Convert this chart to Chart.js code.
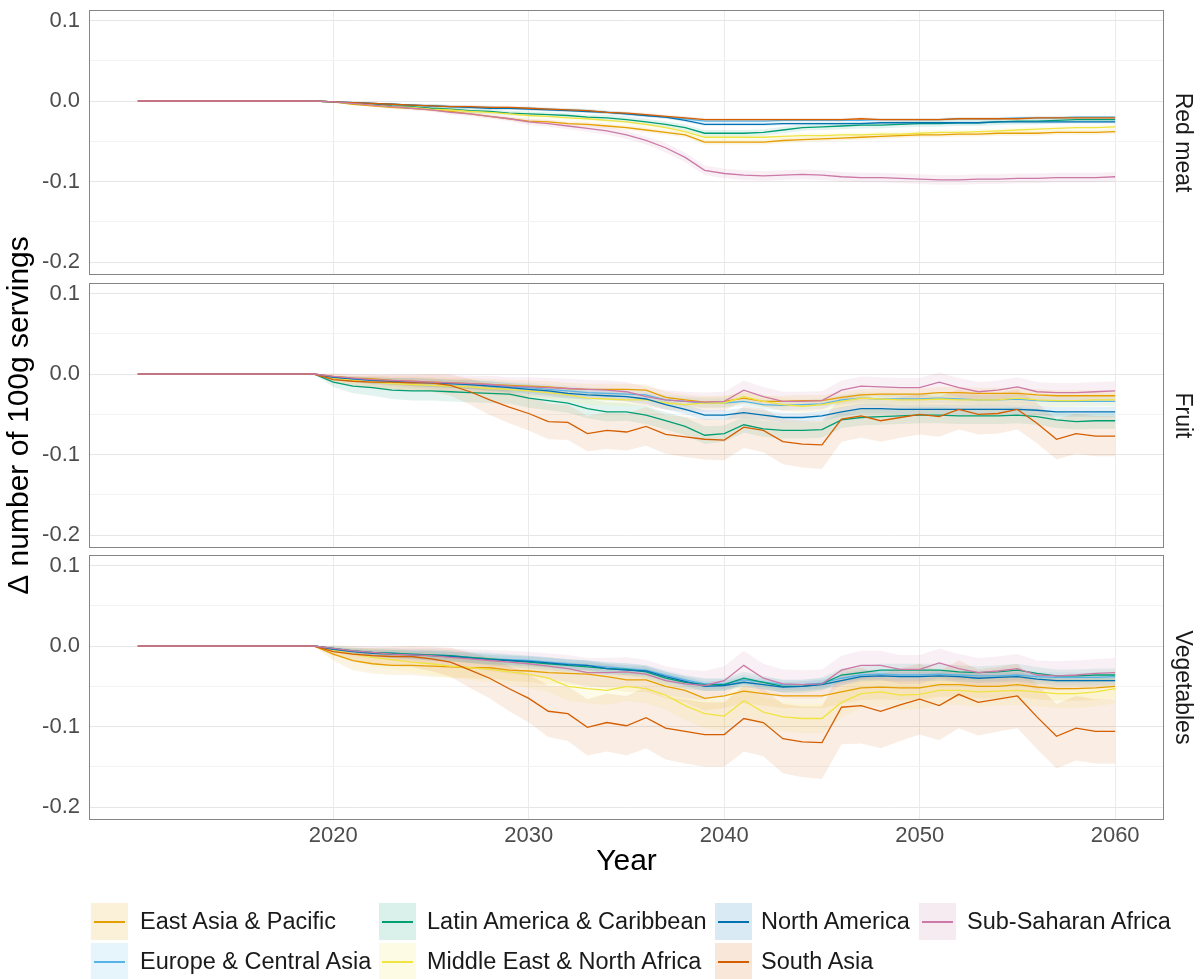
<!DOCTYPE html>
<html>
<head>
<meta charset="utf-8">
<script src="https://cdn.jsdelivr.net/npm/chart.js@4.4.1/dist/chart.umd.min.js"></script>
<style>
  html, body { margin: 0; padding: 0; background: #ffffff; }
  #figure { position: relative; width: 1201px; height: 979px; overflow: hidden; background: #ffffff;
            font-family: "Liberation Sans", Arial, sans-serif; }
  #figure canvas { position: absolute; left: 0; top: 0; }
  .key { position: absolute; width: 37px; height: 37px; }
  .key span { position: absolute; left: 3px; right: 3px; top: 18px; height: 1.5px; }
  .keytext { position: absolute; font-size: 23.5px; color: #1a1a1a; line-height: 37px; white-space: nowrap; }
</style>
</head>
<body>
<div id="figure">
  <canvas id="panel0" width="1201" height="979"></canvas>
  <canvas id="panel1" width="1201" height="979"></canvas>
  <canvas id="panel2" width="1201" height="979"></canvas>
</div>
<script>
// ---- categories ----
const years = [2010,2011,2012,2013,2014,2015,2016,2017,2018,2019,
               2020,2021,2022,2023,2024,2025,2026,2027,2028,2029,
               2030,2031,2032,2033,2034,2035,2036,2037,2038,2039,
               2040,2041,2042,2043,2044,2045,2046,2047,2048,2049,
               2050,2051,2052,2053,2054,2055,2056,2057,2058,2059,2060];
const regions = ['East Asia & Pacific', 'Europe & Central Asia', 'Latin America & Caribbean',
                 'Middle East & North Africa', 'North America', 'South Asia', 'Sub-Saharan Africa'];
const regionColors = ['#E69F00', '#56B4E9', '#009E73', '#F0E442', '#0072B2', '#D55E00', '#CC79A7'];
const foodGroups = ['Red meat', 'Fruit', 'Vegetables'];

// ---- tick labels ----
const xTicks = [2020, 2030, 2040, 2050, 2060];
const yTicks = [-0.2, -0.15, -0.1, -0.05, 0, 0.05, 0.1];
const yTickLabels = ['-0.2', '', '-0.1', '', '0.0', '', '0.1'];

// ---- Red meat: change in servings (2010-2060) ----
const meatEAP = [0,0,0,0,0,0,0,0,0,0, -0.001,-0.004,-0.006,-0.008,-0.009,-0.011,-0.013,-0.016,-0.019,-0.022, -0.025,-0.026,-0.028,-0.029,-0.031,-0.033,-0.036,-0.039,-0.042,-0.051, -0.051,-0.051,-0.051,-0.049,-0.048,-0.047,-0.046,-0.045,-0.044,-0.043, -0.042,-0.042,-0.041,-0.041,-0.040,-0.040,-0.040,-0.039,-0.039,-0.039, -0.038];
const meatECA = [0,0,0,0,0,0,0,0,0,0, -0.001,-0.002,-0.003,-0.004,-0.005,-0.006,-0.007,-0.008,-0.008,-0.009, -0.009,-0.010,-0.011,-0.012,-0.014,-0.016,-0.018,-0.020,-0.022,-0.025, -0.025,-0.025,-0.025,-0.024,-0.024,-0.024,-0.024,-0.024,-0.023,-0.023, -0.023,-0.023,-0.022,-0.022,-0.022,-0.021,-0.021,-0.021,-0.020,-0.020, -0.020];
const meatLAC = [0,0,0,0,0,0,0,0,0,0, -0.001,-0.003,-0.004,-0.006,-0.007,-0.009,-0.010,-0.012,-0.013,-0.015, -0.016,-0.017,-0.018,-0.020,-0.021,-0.023,-0.026,-0.029,-0.033,-0.040, -0.040,-0.040,-0.039,-0.036,-0.033,-0.032,-0.031,-0.030,-0.030,-0.029, -0.028,-0.028,-0.027,-0.027,-0.026,-0.025,-0.025,-0.024,-0.023,-0.023, -0.023];
const meatMENA = [0,0,0,0,0,0,0,0,0,0, -0.001,-0.003,-0.005,-0.007,-0.008,-0.010,-0.011,-0.013,-0.014,-0.016, -0.018,-0.019,-0.021,-0.022,-0.024,-0.026,-0.029,-0.033,-0.038,-0.045, -0.045,-0.045,-0.045,-0.044,-0.043,-0.043,-0.042,-0.042,-0.041,-0.041, -0.040,-0.039,-0.039,-0.038,-0.037,-0.036,-0.035,-0.034,-0.033,-0.033, -0.032];
const meatNA = [0,0,0,0,0,0,0,0,0,0, -0.001,-0.002,-0.003,-0.004,-0.005,-0.006,-0.007,-0.008,-0.009,-0.009, -0.010,-0.011,-0.012,-0.013,-0.014,-0.016,-0.018,-0.020,-0.024,-0.029, -0.029,-0.029,-0.029,-0.028,-0.028,-0.028,-0.028,-0.028,-0.027,-0.027, -0.027,-0.027,-0.027,-0.027,-0.026,-0.026,-0.026,-0.026,-0.026,-0.026, -0.026];
const meatSA = [0,0,0,0,0,0,0,0,0,0, -0.001,-0.002,-0.003,-0.004,-0.005,-0.006,-0.007,-0.007,-0.008,-0.008, -0.009,-0.010,-0.011,-0.012,-0.014,-0.015,-0.017,-0.019,-0.021,-0.023, -0.023,-0.023,-0.023,-0.023,-0.023,-0.023,-0.023,-0.022,-0.023,-0.023, -0.023,-0.023,-0.022,-0.022,-0.022,-0.022,-0.021,-0.021,-0.021,-0.021, -0.021];
const meatSSA = [0,0,0,0,0,0,0,0,0,0, -0.001,-0.003,-0.005,-0.007,-0.009,-0.011,-0.014,-0.016,-0.019,-0.022, -0.026,-0.028,-0.031,-0.034,-0.037,-0.042,-0.049,-0.058,-0.070,-0.086, -0.090,-0.092,-0.093,-0.092,-0.091,-0.092,-0.094,-0.095,-0.095,-0.096, -0.097,-0.098,-0.098,-0.097,-0.097,-0.096,-0.096,-0.095,-0.095,-0.095, -0.094];

// Red meat: half-width of the uncertainty band
const meatEAPband = [0,0,0,0,0,0,0,0,0,0, 0.001,0.001,0.001,0.002,0.002,0.002,0.002,0.002,0.002,0.002, 0.003,0.003,0.003,0.003,0.003,0.003,0.003,0.003,0.003,0.003, 0.003,0.003,0.003,0.003,0.003,0.003,0.003,0.003,0.003,0.003, 0.003,0.003,0.003,0.003,0.003,0.003,0.003,0.003,0.003,0.003, 0.003];
const meatECAband = [0,0,0,0,0,0,0,0,0,0, 0.001,0.001,0.001,0.001,0.002,0.002,0.002,0.002,0.002,0.002, 0.002,0.002,0.002,0.002,0.002,0.002,0.002,0.002,0.002,0.002, 0.002,0.002,0.002,0.002,0.002,0.002,0.002,0.002,0.002,0.002, 0.002,0.002,0.002,0.002,0.002,0.002,0.002,0.002,0.002,0.002, 0.002];
const meatLACband = [0,0,0,0,0,0,0,0,0,0, 0.001,0.001,0.002,0.002,0.002,0.002,0.002,0.003,0.003,0.003, 0.003,0.003,0.003,0.003,0.004,0.004,0.004,0.004,0.004,0.004, 0.004,0.004,0.004,0.004,0.004,0.004,0.004,0.004,0.004,0.004, 0.004,0.004,0.004,0.004,0.004,0.004,0.004,0.004,0.004,0.004, 0.004];
const meatMENAband = [0,0,0,0,0,0,0,0,0,0, 0.001,0.001,0.001,0.002,0.002,0.002,0.002,0.002,0.002,0.002, 0.003,0.003,0.003,0.003,0.003,0.003,0.003,0.003,0.003,0.003, 0.003,0.003,0.003,0.003,0.003,0.003,0.003,0.003,0.003,0.003, 0.003,0.003,0.003,0.003,0.003,0.003,0.003,0.003,0.003,0.003, 0.003];
const meatNAband = [0,0,0,0,0,0,0,0,0,0, 0.001,0.001,0.001,0.001,0.001,0.002,0.002,0.002,0.002,0.002, 0.002,0.002,0.002,0.002,0.002,0.002,0.002,0.002,0.002,0.002, 0.002,0.002,0.002,0.002,0.002,0.002,0.002,0.002,0.002,0.002, 0.002,0.002,0.002,0.002,0.002,0.002,0.002,0.002,0.002,0.002, 0.002];
const meatSAband = [0,0,0,0,0,0,0,0,0,0, 0.001,0.001,0.001,0.001,0.001,0.002,0.002,0.002,0.002,0.002, 0.002,0.002,0.002,0.002,0.002,0.002,0.002,0.002,0.002,0.002, 0.002,0.002,0.002,0.002,0.002,0.002,0.002,0.002,0.002,0.002, 0.002,0.002,0.002,0.002,0.002,0.002,0.002,0.002,0.002,0.002, 0.002];
const meatSSAband = [0,0,0,0,0,0,0,0,0,0, 0.001,0.001,0.002,0.002,0.002,0.002,0.003,0.003,0.003,0.003, 0.004,0.004,0.004,0.004,0.005,0.005,0.005,0.006,0.006,0.006, 0.006,0.006,0.006,0.006,0.006,0.006,0.006,0.006,0.006,0.006, 0.006,0.006,0.006,0.006,0.006,0.006,0.006,0.006,0.006,0.006, 0.006];

// ---- Fruit ----
const fruitEAP = [0,0,0,0,0,0,0,0,0,0, -0.003,-0.005,-0.006,-0.008,-0.009,-0.010,-0.011,-0.012,-0.013,-0.014, -0.015,-0.016,-0.018,-0.019,-0.019,-0.019,-0.020,-0.029,-0.032,-0.035, -0.034,-0.030,-0.034,-0.034,-0.033,-0.033,-0.029,-0.026,-0.025,-0.025, -0.025,-0.023,-0.023,-0.024,-0.024,-0.024,-0.026,-0.027,-0.027,-0.027, -0.027];
const fruitECA = [0,0,0,0,0,0,0,0,0,0, -0.004,-0.006,-0.008,-0.009,-0.010,-0.011,-0.012,-0.013,-0.014,-0.016, -0.017,-0.019,-0.021,-0.023,-0.024,-0.025,-0.026,-0.032,-0.034,-0.036, -0.036,-0.034,-0.038,-0.039,-0.038,-0.037,-0.032,-0.030,-0.031,-0.031, -0.031,-0.030,-0.031,-0.032,-0.032,-0.031,-0.033,-0.034,-0.034,-0.034, -0.034];
const fruitLAC = [0,0,0,0,0,0,0,0,0,0, -0.010,-0.015,-0.017,-0.020,-0.021,-0.021,-0.022,-0.023,-0.024,-0.025, -0.030,-0.033,-0.036,-0.043,-0.047,-0.047,-0.051,-0.058,-0.065,-0.076, -0.074,-0.063,-0.068,-0.070,-0.070,-0.069,-0.057,-0.054,-0.053,-0.052, -0.051,-0.051,-0.052,-0.052,-0.052,-0.051,-0.053,-0.057,-0.059,-0.058, -0.058];
const fruitMENA = [0,0,0,0,0,0,0,0,0,0, -0.005,-0.008,-0.010,-0.012,-0.013,-0.014,-0.015,-0.016,-0.018,-0.019, -0.021,-0.023,-0.026,-0.030,-0.031,-0.032,-0.032,-0.036,-0.038,-0.036, -0.036,-0.028,-0.034,-0.038,-0.040,-0.038,-0.034,-0.030,-0.031,-0.032, -0.032,-0.031,-0.032,-0.032,-0.032,-0.030,-0.032,-0.033,-0.033,-0.032, -0.032];
const fruitNA = [0,0,0,0,0,0,0,0,0,0, -0.004,-0.006,-0.008,-0.009,-0.010,-0.011,-0.012,-0.013,-0.015,-0.017, -0.019,-0.021,-0.024,-0.026,-0.027,-0.028,-0.031,-0.038,-0.044,-0.051, -0.051,-0.048,-0.051,-0.054,-0.054,-0.052,-0.047,-0.043,-0.043,-0.044, -0.044,-0.044,-0.044,-0.044,-0.044,-0.044,-0.045,-0.047,-0.047,-0.047, -0.047];
const fruitSA = [0,0,0,0,0,0,0,0,0,0, -0.007,-0.009,-0.010,-0.010,-0.011,-0.011,-0.014,-0.022,-0.032,-0.041, -0.049,-0.059,-0.060,-0.074,-0.070,-0.072,-0.065,-0.075,-0.078,-0.081, -0.082,-0.066,-0.070,-0.084,-0.087,-0.088,-0.056,-0.052,-0.058,-0.054, -0.050,-0.053,-0.044,-0.050,-0.049,-0.044,-0.061,-0.081,-0.074,-0.077, -0.077];
const fruitSSA = [0,0,0,0,0,0,0,0,0,0, -0.003,-0.005,-0.007,-0.008,-0.009,-0.010,-0.011,-0.012,-0.013,-0.015, -0.016,-0.017,-0.018,-0.019,-0.020,-0.022,-0.028,-0.032,-0.034,-0.035, -0.034,-0.020,-0.028,-0.034,-0.034,-0.033,-0.020,-0.015,-0.016,-0.017, -0.017,-0.010,-0.017,-0.022,-0.020,-0.016,-0.022,-0.023,-0.023,-0.022, -0.021];

const fruitEAPband = [0,0,0,0,0,0,0,0,0,0, 0.003,0.004,0.005,0.005,0.006,0.006,0.006,0.007,0.007,0.007, 0.007,0.007,0.007,0.007,0.007,0.007,0.007,0.007,0.007,0.007, 0.007,0.007,0.007,0.007,0.007,0.007,0.007,0.007,0.007,0.007, 0.007,0.007,0.007,0.007,0.007,0.007,0.007,0.007,0.007,0.007, 0.007];
const fruitECAband = [0,0,0,0,0,0,0,0,0,0, 0.002,0.003,0.004,0.004,0.005,0.005,0.005,0.005,0.006,0.006, 0.006,0.006,0.006,0.006,0.006,0.006,0.006,0.006,0.006,0.006, 0.006,0.006,0.006,0.006,0.006,0.006,0.006,0.006,0.006,0.006, 0.006,0.006,0.006,0.006,0.006,0.006,0.006,0.006,0.006,0.006, 0.006];
const fruitLACband = [0,0,0,0,0,0,0,0,0,0, 0.006,0.009,0.010,0.011,0.012,0.012,0.012,0.012,0.012,0.012, 0.012,0.012,0.012,0.012,0.012,0.011,0.011,0.011,0.011,0.011, 0.010,0.010,0.010,0.010,0.010,0.010,0.010,0.010,0.010,0.010, 0.010,0.010,0.010,0.010,0.010,0.010,0.010,0.010,0.010,0.010, 0.010];
const fruitMENAband = [0,0,0,0,0,0,0,0,0,0, 0.004,0.005,0.006,0.007,0.007,0.008,0.008,0.008,0.008,0.008, 0.008,0.008,0.008,0.008,0.008,0.008,0.008,0.008,0.008,0.008, 0.008,0.008,0.008,0.008,0.008,0.008,0.008,0.008,0.008,0.008, 0.008,0.008,0.008,0.008,0.008,0.008,0.008,0.008,0.008,0.008, 0.008];
const fruitNAband = [0,0,0,0,0,0,0,0,0,0, 0.002,0.003,0.004,0.004,0.005,0.005,0.005,0.006,0.006,0.006, 0.006,0.006,0.006,0.006,0.006,0.006,0.006,0.006,0.006,0.006, 0.006,0.006,0.006,0.006,0.006,0.006,0.006,0.006,0.006,0.006, 0.006,0.006,0.006,0.006,0.006,0.006,0.006,0.006,0.006,0.006, 0.006];
const fruitSAband = [0,0,0,0,0,0,0,0,0,0, 0.004,0.006,0.008,0.009,0.010,0.011,0.013,0.016,0.019,0.020, 0.021,0.022,0.022,0.022,0.023,0.023,0.024,0.024,0.025,0.025, 0.025,0.026,0.027,0.028,0.029,0.030,0.028,0.027,0.026,0.025, 0.025,0.025,0.025,0.025,0.025,0.025,0.025,0.025,0.025,0.025, 0.025];
const fruitSSAband = [0,0,0,0,0,0,0,0,0,0, 0.004,0.005,0.006,0.007,0.008,0.009,0.010,0.010,0.011,0.011, 0.012,0.012,0.012,0.012,0.012,0.012,0.012,0.012,0.012,0.012, 0.012,0.012,0.012,0.012,0.012,0.012,0.012,0.012,0.012,0.012, 0.012,0.012,0.012,0.012,0.012,0.012,0.012,0.012,0.012,0.012, 0.012];

// ---- Vegetables ----
const vegEAP = [0,0,0,0,0,0,0,0,0,0, -0.010,-0.018,-0.022,-0.024,-0.024,-0.025,-0.026,-0.027,-0.027,-0.030, -0.031,-0.033,-0.034,-0.035,-0.038,-0.042,-0.042,-0.050,-0.055,-0.065, -0.062,-0.056,-0.059,-0.062,-0.062,-0.062,-0.057,-0.052,-0.051,-0.052, -0.052,-0.048,-0.048,-0.050,-0.050,-0.048,-0.051,-0.053,-0.053,-0.052, -0.050];
const vegECA = [0,0,0,0,0,0,0,0,0,0, -0.003,-0.006,-0.008,-0.009,-0.010,-0.011,-0.012,-0.014,-0.016,-0.017, -0.018,-0.020,-0.022,-0.024,-0.026,-0.028,-0.030,-0.036,-0.042,-0.047, -0.047,-0.042,-0.045,-0.048,-0.048,-0.046,-0.040,-0.036,-0.035,-0.036, -0.036,-0.035,-0.036,-0.037,-0.037,-0.036,-0.038,-0.039,-0.039,-0.039, -0.038];
const vegLAC = [0,0,0,0,0,0,0,0,0,0, -0.003,-0.006,-0.008,-0.009,-0.010,-0.011,-0.012,-0.014,-0.016,-0.018, -0.020,-0.022,-0.024,-0.026,-0.028,-0.029,-0.032,-0.040,-0.045,-0.048, -0.048,-0.040,-0.045,-0.050,-0.050,-0.047,-0.036,-0.033,-0.030,-0.030, -0.030,-0.030,-0.032,-0.033,-0.032,-0.030,-0.034,-0.037,-0.037,-0.036, -0.036];
const vegMENA = [0,0,0,0,0,0,0,0,0,0, -0.005,-0.010,-0.014,-0.017,-0.020,-0.022,-0.025,-0.027,-0.029,-0.032, -0.035,-0.040,-0.050,-0.053,-0.055,-0.050,-0.053,-0.061,-0.074,-0.084, -0.087,-0.068,-0.082,-0.088,-0.090,-0.090,-0.070,-0.059,-0.057,-0.061, -0.060,-0.055,-0.055,-0.057,-0.056,-0.055,-0.057,-0.059,-0.059,-0.057, -0.053];
const vegNA = [0,0,0,0,0,0,0,0,0,0, -0.004,-0.007,-0.009,-0.010,-0.011,-0.012,-0.013,-0.015,-0.017,-0.018, -0.019,-0.021,-0.023,-0.024,-0.028,-0.030,-0.031,-0.038,-0.044,-0.050, -0.049,-0.045,-0.048,-0.051,-0.050,-0.048,-0.043,-0.038,-0.037,-0.038, -0.038,-0.037,-0.038,-0.040,-0.039,-0.038,-0.041,-0.043,-0.043,-0.043, -0.043];
const vegSA = [0,0,0,0,0,0,0,0,0,0, -0.007,-0.010,-0.012,-0.013,-0.013,-0.016,-0.020,-0.030,-0.040,-0.053, -0.065,-0.081,-0.084,-0.101,-0.095,-0.099,-0.089,-0.102,-0.106,-0.110, -0.110,-0.090,-0.095,-0.115,-0.119,-0.120,-0.076,-0.074,-0.081,-0.073, -0.066,-0.074,-0.060,-0.070,-0.066,-0.062,-0.088,-0.112,-0.102,-0.106, -0.106];
const vegSSA = [0,0,0,0,0,0,0,0,0,0, -0.003,-0.006,-0.008,-0.010,-0.011,-0.012,-0.014,-0.016,-0.018,-0.020, -0.022,-0.025,-0.028,-0.033,-0.033,-0.032,-0.035,-0.043,-0.047,-0.049, -0.043,-0.024,-0.040,-0.047,-0.048,-0.047,-0.030,-0.024,-0.024,-0.029, -0.029,-0.021,-0.028,-0.033,-0.031,-0.028,-0.036,-0.037,-0.036,-0.034, -0.033];

const vegEAPband = [0,0,0,0,0,0,0,0,0,0, 0.008,0.012,0.012,0.012,0.012,0.013,0.013,0.013,0.013,0.013, 0.014,0.014,0.014,0.014,0.015,0.015,0.015,0.015,0.015,0.015, 0.015,0.015,0.015,0.015,0.015,0.015,0.015,0.015,0.015,0.015, 0.015,0.015,0.015,0.015,0.015,0.015,0.015,0.015,0.015,0.015, 0.015];
const vegECAband = [0,0,0,0,0,0,0,0,0,0, 0.002,0.003,0.004,0.004,0.005,0.005,0.005,0.006,0.006,0.006, 0.006,0.006,0.006,0.006,0.006,0.006,0.006,0.006,0.006,0.006, 0.006,0.006,0.006,0.006,0.006,0.006,0.006,0.006,0.006,0.006, 0.006,0.006,0.006,0.006,0.006,0.006,0.006,0.006,0.006,0.006, 0.006];
const vegLACband = [0,0,0,0,0,0,0,0,0,0, 0.003,0.004,0.005,0.006,0.006,0.007,0.007,0.007,0.008,0.008, 0.008,0.008,0.008,0.008,0.008,0.008,0.008,0.008,0.008,0.008, 0.008,0.008,0.008,0.008,0.008,0.008,0.008,0.008,0.008,0.008, 0.008,0.008,0.008,0.008,0.008,0.008,0.008,0.008,0.008,0.008, 0.008];
const vegMENAband = [0,0,0,0,0,0,0,0,0,0, 0.006,0.009,0.011,0.012,0.013,0.014,0.015,0.015,0.016,0.016, 0.017,0.017,0.018,0.018,0.018,0.018,0.018,0.018,0.018,0.018, 0.018,0.018,0.018,0.018,0.018,0.018,0.018,0.018,0.018,0.018, 0.018,0.018,0.018,0.018,0.018,0.018,0.018,0.018,0.018,0.018, 0.018];
const vegNAband = [0,0,0,0,0,0,0,0,0,0, 0.002,0.003,0.004,0.005,0.005,0.006,0.006,0.006,0.006,0.006, 0.006,0.006,0.006,0.006,0.006,0.006,0.006,0.006,0.006,0.006, 0.006,0.006,0.006,0.006,0.006,0.006,0.006,0.006,0.006,0.006, 0.006,0.006,0.006,0.006,0.006,0.006,0.006,0.006,0.006,0.006, 0.006];
const vegSAband = [0,0,0,0,0,0,0,0,0,0, 0.005,0.008,0.010,0.012,0.013,0.015,0.018,0.022,0.025,0.028, 0.030,0.032,0.034,0.035,0.036,0.037,0.038,0.039,0.040,0.040, 0.040,0.041,0.042,0.043,0.044,0.045,0.046,0.047,0.046,0.045, 0.044,0.043,0.042,0.041,0.040,0.040,0.040,0.040,0.040,0.040, 0.040];
const vegSSAband = [0,0,0,0,0,0,0,0,0,0, 0.004,0.006,0.007,0.008,0.009,0.010,0.011,0.012,0.013,0.014, 0.015,0.016,0.017,0.018,0.018,0.018,0.018,0.018,0.018,0.018, 0.018,0.018,0.018,0.018,0.018,0.018,0.018,0.018,0.018,0.018, 0.018,0.018,0.018,0.018,0.018,0.018,0.018,0.018,0.018,0.018, 0.018];

// one row per facet, one entry per region (in the order of `regions`)
const panelSeries = [
  [meatEAP, meatECA, meatLAC, meatMENA, meatNA, meatSA, meatSSA],
  [fruitEAP, fruitECA, fruitLAC, fruitMENA, fruitNA, fruitSA, fruitSSA],
  [vegEAP, vegECA, vegLAC, vegMENA, vegNA, vegSA, vegSSA]
];
const panelBands = [
  [meatEAPband, meatECAband, meatLACband, meatMENAband, meatNAband, meatSAband, meatSSAband],
  [fruitEAPband, fruitECAband, fruitLACband, fruitMENAband, fruitNAband, fruitSAband, fruitSSAband],
  [vegEAPband, vegECAband, vegLACband, vegMENAband, vegNAband, vegSAband, vegSSAband]
];

// ---- layout (pixels) ----
const W = 1201, H = 979;
const PLOT_LEFT = 89, PLOT_RIGHT = 1164;
const panelTop = [10, 283, 555];
const panelBottom = [275, 548, 820];
const X_AXIS_BAND = 60;           // space under the last facet for tick labels + title
const FONT = '"Liberation Sans", Arial, sans-serif';

function rgba(hex, a) {
  const n = parseInt(hex.slice(1), 16);
  return `rgba(${(n >> 16) & 255},${(n >> 8) & 255},${n & 255},${a})`;
}
function points(vals) { return vals.map((v, i) => ({ x: years[i], y: v })); }

function buildDatasets(series, bands) {
  const ds = [];
  // uncertainty ribbons, drawn underneath all lines
  series.forEach((vals, k) => {
    const lower = vals.map((v, i) => v - bands[k][i]);
    const upper = vals.map((v, i) => v + bands[k][i]);
    ds.push({ data: points(lower), borderWidth: 0, borderColor: 'rgba(0,0,0,0)', pointRadius: 0,
              fill: false, order: 200 - 2 * k });
    ds.push({ data: points(upper), borderWidth: 0, borderColor: 'rgba(0,0,0,0)', pointRadius: 0,
              fill: '-1', backgroundColor: rgba(regionColors[k], 0.11), order: 199 - 2 * k });
  });
  // mean trajectories; later regions sit on top
  series.forEach((vals, k) => {
    ds.push({ label: regions[k], data: points(vals), borderColor: regionColors[k], borderWidth: 1.3,
              pointRadius: 0, fill: false, tension: 0, order: 10 - k });
  });
  return ds;
}

// panel frame + facet strip label
const facetDecor = {
  id: 'facetDecor',
  afterDraw(chart, args, opts) {
    const { ctx, chartArea: a } = chart;
    ctx.save();
    ctx.strokeStyle = '#858585';
    ctx.lineWidth = 1;
    ctx.strokeRect(Math.round(a.left) + 0.5, Math.round(a.top) + 0.5,
                   Math.round(a.right - a.left) - 1, Math.round(a.bottom - a.top) - 1);
    ctx.translate(1182, (a.top + a.bottom) / 2);
    ctx.rotate(Math.PI / 2);
    ctx.fillStyle = '#1a1a1a';
    ctx.font = '23px ' + FONT;
    ctx.textAlign = 'center';
    ctx.textBaseline = 'middle';
    ctx.fillText(opts.label, 0, 0);
    ctx.restore();
  }
};

foodGroups.forEach((group, p) => {
  const last = p === foodGroups.length - 1;
  const xBand = last ? X_AXIS_BAND : 0;
  new Chart(document.getElementById('panel' + p), {
    type: 'line',
    data: { datasets: buildDatasets(panelSeries[p], panelBands[p]) },
    plugins: [facetDecor],
    options: {
      responsive: false,
      animation: false,
      events: [],
      layout: { padding: { left: 0, right: W - PLOT_RIGHT, top: panelTop[p],
                           bottom: H - panelBottom[p] - xBand } },
      plugins: {
        legend: { display: false },
        tooltip: { enabled: false },
        facetDecor: { label: group }
      },
      scales: {
        x: {
          type: 'linear', min: 2007.5, max: 2062.5,
          afterBuildTicks: s => { s.ticks = xTicks.map(v => ({ value: v })); },
          afterFit: s => { s.height = xBand; s.paddingLeft = 0; s.paddingRight = 0; },
          ticks: { display: last, color: '#4d4d4d', font: { family: FONT, size: 22 }, padding: 3,
                   maxRotation: 0, autoSkip: false, callback: v => String(v) },
          grid: { color: '#ebebeb', lineWidth: 1, drawTicks: false },
          border: { display: false },
          title: { display: last, text: 'Year', color: '#000000',
                   font: { family: FONT, size: 30 }, padding: { top: 0, bottom: 0 } }
        },
        y: {
          type: 'linear', min: -0.216, max: 0.113,
          afterBuildTicks: s => { s.ticks = yTicks.map(v => ({ value: v })); },
          afterFit: s => { s.width = PLOT_LEFT; s.paddingTop = 0; s.paddingBottom = 0; },
          ticks: { color: '#4d4d4d', font: { family: FONT, size: 22 }, padding: 9, autoSkip: false,
                   callback: (v, i) => yTickLabels[i] },
          grid: {
            color: c => (c.tick && yTickLabels[yTicks.indexOf(c.tick.value)] !== '') ? '#e6e6e6' : '#f3f3f3',
            lineWidth: 1, drawTicks: false
          },
          border: { display: false },
          title: { display: p === 1, text: 'Δ number of 100g servings', color: '#000000',
                   font: { family: FONT, size: 30 }, padding: { top: 2, bottom: 0 } }
        }
      }
    }
  });
});

// ---- legend: two rows, filled column by column ----
const legendColX = [91, 379, 715, 919];
const legendTextX = [140, 427, 761, 967];
const legendRowY = [903, 943];
const fig = document.getElementById('figure');
regions.forEach((name, k) => {
  const col = Math.floor(k / 2), row = k % 2;
  const key = document.createElement('div');
  key.className = 'key';
  key.style.left = legendColX[col] + 'px';
  key.style.top = legendRowY[row] + 'px';
  key.style.background = rgba(regionColors[k], 0.15);
  const line = document.createElement('span');
  line.style.background = regionColors[k];
  key.appendChild(line);
  fig.appendChild(key);
  const txt = document.createElement('div');
  txt.className = 'keytext';
  txt.style.left = legendTextX[col] + 'px';
  txt.style.top = legendRowY[row] + 'px';
  txt.textContent = name;
  fig.appendChild(txt);
});
</script>
</body>
</html>
